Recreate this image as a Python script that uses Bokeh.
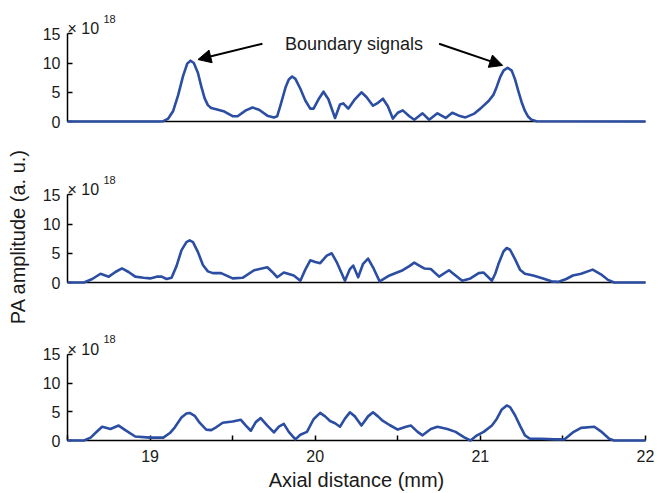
import math
from bokeh.plotting import figure
from bokeh.layouts import column, row
from bokeh.models import Range1d, FixedTicker, Label, Arrow, NormalHead
from bokeh.embed import file_html
from bokeh.resources import INLINE

# ---------------- data (axial distance in mm, PA amplitude in 1e18 a.u.) ----------------
x_top = [18.50, 19.05, 19.08, 19.11, 19.14, 19.17, 19.20, 19.225, 19.245, 19.265, 19.29, 19.31,
         19.33, 19.35, 19.37, 19.40, 19.45, 19.50, 19.53, 19.58, 19.62, 19.66, 19.71, 19.75,
         19.77, 19.79, 19.82, 19.84, 19.86, 19.88, 19.91, 19.94, 19.97, 19.99, 20.02, 20.05,
         20.08, 20.12, 20.15, 20.17, 20.20, 20.24, 20.28, 20.31, 20.35, 20.38, 20.41, 20.44,
         20.47, 20.50, 20.53, 20.57, 20.60, 20.65, 20.69, 20.74, 20.79, 20.83, 20.87, 20.91,
         20.96, 21.00, 21.05, 21.08, 21.10, 21.12, 21.14, 21.165, 21.19, 21.21, 21.23, 21.25,
         21.27, 21.29, 21.31, 21.34, 22.00]
y_top = [0, 0, 0.05, 0.5, 1.8, 4.5, 7.8, 9.9, 10.4, 10.0, 8.3, 6.0,
         4.0, 2.8, 2.3, 2.1, 1.7, 0.9, 0.9, 1.9, 2.4, 2.0, 1.0, 0.7,
         0.9, 2.8, 5.8, 7.2, 7.7, 7.3, 5.6, 3.6, 2.2, 2.2, 3.8, 5.1,
         3.8, 0.6, 2.9, 3.1, 2.2, 3.8, 5.0, 4.2, 2.7, 3.2, 3.9, 2.6,
         0.5, 1.5, 1.9, 0.9, 0.3, 1.4, 0.3, 1.4, 0.6, 1.5, 1.0, 0.7,
         1.3, 2.2, 3.5, 4.6, 6.0, 7.6, 8.7, 9.2, 8.7, 7.2, 5.2, 3.3,
         1.8, 0.8, 0.3, 0.05, 0]

x_mid = [18.50, 18.60, 18.65, 18.70, 18.75, 18.79, 18.83, 18.87, 18.91, 18.96, 19.00, 19.04,
         19.07, 19.10, 19.13, 19.16, 19.19, 19.22, 19.24, 19.26, 19.29, 19.32, 19.35, 19.38,
         19.43, 19.47, 19.50, 19.56, 19.63, 19.71, 19.74, 19.77, 19.81, 19.87, 19.91, 19.94,
         19.97, 20.00, 20.03, 20.07, 20.10, 20.13, 20.18, 20.21, 20.23, 20.26, 20.29, 20.32,
         20.35, 20.39, 20.45, 20.53, 20.57, 20.60, 20.63, 20.66, 20.70, 20.75, 20.81, 20.85,
         20.89, 20.94, 20.99, 21.02, 21.07, 21.09, 21.11, 21.14, 21.16, 21.18, 21.21, 21.24,
         21.27, 21.32, 21.38, 21.43, 21.47, 21.52, 21.56, 21.61, 21.68, 21.73, 21.77, 21.81,
         22.00]
y_mid = [0, 0, 0.6, 1.5, 1.0, 1.8, 2.4, 1.8, 1.0, 0.8, 0.7, 1.0,
         1.0, 0.6, 0.8, 2.8, 5.5, 6.9, 7.2, 6.9, 5.2, 3.0, 1.9, 1.6,
         1.6, 1.1, 0.7, 0.8, 2.1, 2.6, 1.8, 0.9, 1.7, 1.2, 0.3, 2.2,
         3.8, 3.5, 3.3, 4.6, 5.0, 3.5, 0.3, 2.3, 2.9, 0.9, 3.2, 4.1,
         2.6, 0.2, 1.2, 2.1, 2.8, 3.4, 2.9, 2.4, 2.3, 1.0, 2.1, 1.2,
         0.3, 0.7, 1.6, 1.7, 0.3, 1.5, 3.2, 5.3, 5.9, 5.6, 4.0, 2.2,
         1.5, 1.2, 0.7, 0.2, 0.1, 0.6, 1.2, 1.5, 2.2, 1.4, 0.5, 0,
         0]

x_bot = [18.50, 18.60, 18.64, 18.68, 18.71, 18.76, 18.81, 18.85, 18.91, 19.00, 19.08, 19.12,
         19.15, 19.19, 19.22, 19.24, 19.27, 19.30, 19.34, 19.37, 19.40, 19.44, 19.50, 19.55,
         19.58, 19.61, 19.64, 19.67, 19.71, 19.75, 19.78, 19.81, 19.84, 19.88, 19.91, 19.95,
         19.99, 20.03, 20.06, 20.09, 20.12, 20.15, 20.18, 20.21, 20.24, 20.28, 20.32, 20.35,
         20.38, 20.41, 20.45, 20.50, 20.55, 20.58, 20.62, 20.65, 20.70, 20.74, 20.80, 20.85,
         20.90, 20.94, 20.98, 21.02, 21.07, 21.10, 21.13, 21.16, 21.18, 21.21, 21.24, 21.27,
         21.30, 21.37, 21.45, 21.51, 21.56, 21.61, 21.69, 21.73, 21.78, 21.81, 22.00]
y_bot = [0, 0, 0.5, 1.6, 2.4, 2.0, 2.6, 1.8, 0.7, 0.5, 0.5, 1.3,
         2.3, 4.0, 4.7, 4.8, 4.3, 3.1, 1.9, 1.8, 2.3, 3.1, 3.3, 3.6,
         2.6, 1.7, 3.2, 3.9, 2.6, 1.4, 2.4, 2.9, 1.5, 0.2, 1.0, 1.5,
         3.7, 4.8, 4.2, 3.4, 3.0, 2.4, 3.8, 4.9, 4.2, 2.6, 4.2, 4.9,
         4.2, 3.4, 2.7, 1.9, 2.4, 2.6, 1.5, 0.9, 2.0, 2.4, 2.0, 1.5,
         0.6, 0, 0.9, 1.5, 2.6, 3.8, 5.4, 6.1, 5.8, 4.4, 2.6, 0.9,
         0.3, 0.3, 0.2, 0.2, 1.4, 2.2, 2.4, 1.6, 0.3, 0, 0]

x_ticks = [19, 20, 21, 22]
x_minor_ticks = [18.5, 19.5, 20.5, 21.5]
y_ticks = [0, 5, 10, 15]
x_label = "Axial distance (mm)"
y_label = "PA amplitude (a. u.)"
exp_base = "× 10"
exp_power = "18"
annotation_text = "Boundary signals"
annotation_pos = (20.235, 13.3)
arrow_left = (19.68, 13.3, 19.29, 10.6)
arrow_right = (20.75, 13.3, 21.135, 9.6)

# ---------------- styling ----------------
FONT = "Liberation Sans"
BLUE = "#2B4EA2"
TXT = "#1a1a1a"
LABEL_W = 30
W = 669 - LABEL_W
LEFT, RIGHT = 67 - LABEL_W, 24
Y_TOP = 19.5   # frame extends above the axis (axis bounded to 0..15) to hold the exponent


def make_fig(height, top, bottom, xs, ys, show_x=False):
    p = figure(width=W, height=height, x_range=Range1d(18.5, 22), y_range=Range1d(0, Y_TOP),
               output_backend="svg", toolbar_location=None,
               min_border_left=LEFT, min_border_right=RIGHT,
               min_border_top=top, min_border_bottom=bottom)
    p.outline_line_color = None
    p.xgrid.visible = False
    p.ygrid.visible = False
    p.background_fill_color = "white"
    p.border_fill_color = "white"

    ya = p.yaxis[0]
    ya.bounds = (0, 15)
    ya.ticker = FixedTicker(ticks=y_ticks, minor_ticks=[])
    ya.major_tick_in = 5
    ya.major_tick_out = 0
    ya.minor_tick_in = 0
    ya.minor_tick_out = 0
    ya.axis_line_width = 1.5
    ya.axis_line_color = "black"
    ya.major_tick_line_width = 1.5
    ya.major_label_text_font = FONT
    ya.major_label_text_font_size = "16px"
    ya.major_label_text_color = TXT
    ya.major_label_standoff = 7

    xa = p.xaxis[0]
    xa.axis_line_width = 1.5
    xa.axis_line_color = "black"
    if show_x:
        xa.ticker = FixedTicker(ticks=x_ticks, minor_ticks=x_minor_ticks)
        xa.major_tick_in = 5
        xa.major_tick_out = 0
        xa.minor_tick_in = 5
        xa.minor_tick_out = 0
        xa.major_tick_line_width = 1.5
        xa.minor_tick_line_width = 1.5
        xa.minor_tick_line_color = "black"
        xa.major_label_text_font = FONT
        xa.major_label_text_font_size = "16px"
        xa.major_label_text_color = TXT
        xa.major_label_standoff = 9
        xa.axis_label = x_label
        xa.axis_label_text_font = FONT
        xa.axis_label_text_font_size = "20px"
        xa.axis_label_text_font_style = "normal"
        xa.axis_label_text_color = TXT
        xa.axis_label_standoff = 4
    else:
        xa.ticker = FixedTicker(ticks=[], minor_ticks=[])
        xa.major_tick_in = 0
        xa.major_tick_out = 0
        xa.minor_tick_in = 0
        xa.minor_tick_out = 0
        xa.major_label_text_font_size = "0px"

    r = p.line(xs, ys, line_color=BLUE, line_width=2.6, line_join="round")
    r.level = "overlay"

    p.add_layout(Label(x=18.5, y=15, text=exp_base, x_offset=0, y_offset=5,
                       text_font=FONT, text_font_size="16px", text_color=TXT,
                       text_baseline="alphabetic"))
    p.add_layout(Label(x=18.5, y=15, text=exp_power, x_offset=36, y_offset=15,
                       text_font=FONT, text_font_size="11px", text_color=TXT,
                       text_baseline="alphabetic"))
    return p


f1 = make_fig(160, 7, 39, x_top, y_top)
f2 = make_fig(160, 8, 38, x_mid, y_mid)
f3 = make_fig(173, 8, 51, x_bot, y_bot, show_x=True)

f1.add_layout(Label(x=annotation_pos[0], y=annotation_pos[1], text=annotation_text,
                    text_align="center", text_baseline="middle",
                    text_font=FONT, text_font_size="18px", text_color=TXT))
for (xs0, ys0, xe, ye) in (arrow_left, arrow_right):
    f1.add_layout(Arrow(end=NormalHead(size=13, fill_color="black", line_color="black"),
                        x_start=xs0, y_start=ys0, x_end=xe, y_end=ye,
                        line_color="black", line_width=2))

# narrow panel on the left holding the shared y-axis title
lab = figure(width=LABEL_W, height=493, x_range=Range1d(0, LABEL_W), y_range=Range1d(0, 493),
             output_backend="svg", toolbar_location=None,
             min_border_left=0, min_border_right=0, min_border_top=0, min_border_bottom=0)
lab.axis.visible = False
lab.grid.visible = False
lab.outline_line_color = None
lab.add_layout(Label(x=17, y=493 - 236, text=y_label, angle=math.pi / 2,
                     text_align="center", text_baseline="middle",
                     text_font=FONT, text_font_size="20px", text_color=TXT))

layout = row(lab, column(f1, f2, f3, spacing=0), spacing=0)
open("out.html", "w").write(file_html(layout, INLINE))
